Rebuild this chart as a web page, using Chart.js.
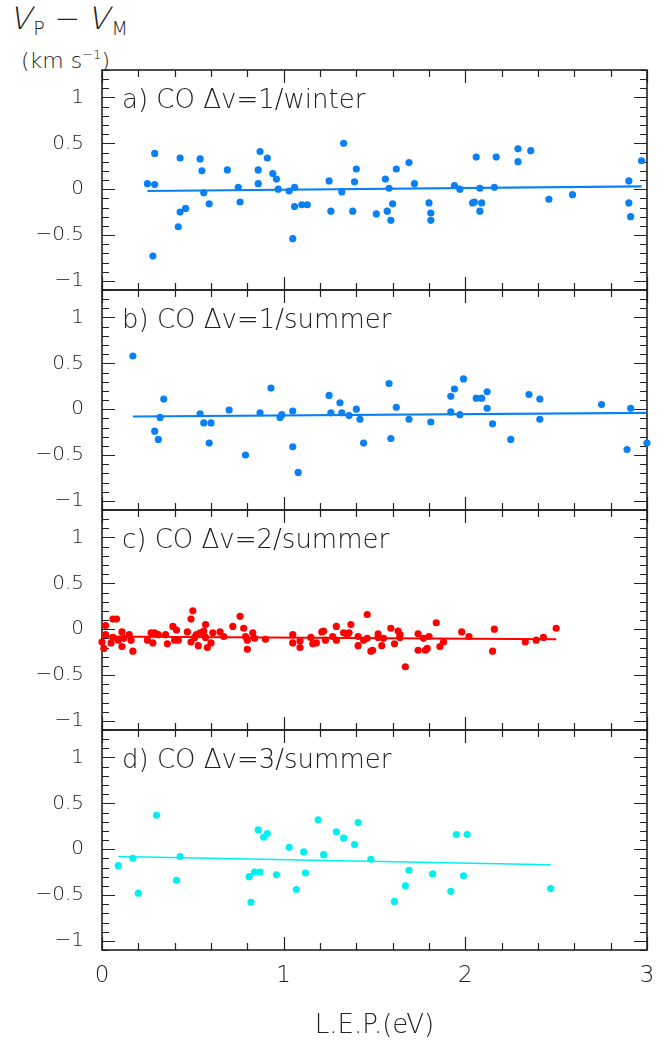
<!DOCTYPE html>
<html>
<head>
<meta charset="utf-8">
<title>V_P - V_M vs L.E.P.</title>
<script src="https://cdn.jsdelivr.net/npm/chart.js@4.4.1/dist/chart.umd.min.js"></script>
<style>
    body { margin: 0; width: 667px; height: 1046px; background: #fff; position: relative; overflow: hidden; font-family: 'DejaVu Sans', sans-serif; font-weight: 200; color: #222; }
    .panel { position: absolute; left: 0; width: 667px; }
    #ytitle { position: absolute; left: 12px; top: 0px; font-size: 31px; line-height: 36px; white-space: nowrap; }
    #ytitle .v { display: inline-block; font-style: normal; transform: skewX(-14deg); }
    #ytitle sub { font-size: 19px; vertical-align: -6px; }
    #yunit { position: absolute; left: 21px; top: 42px; font-size: 22px; line-height: 26px; white-space: nowrap; }
    #yunit sup { font-size: 13px; vertical-align: 9px; }
</style>
</head>
<body>
<div id="ytitle"><span class="v">V</span><sub>P</sub> &minus; <span class="v">V</span><sub>M</sub></div>
<div id="yunit">(km s<sup>&minus;1</sup>)</div>
<div class="panel" style="top:50px;height:260px"><canvas id="panelA"></canvas></div>
<div class="panel" style="top:270px;height:260px"><canvas id="panelB"></canvas></div>
<div class="panel" style="top:490px;height:260px"><canvas id="panelC"></canvas></div>
<div class="panel" style="top:710px;height:336px"><canvas id="panelD"></canvas></div>
<script>
// panel a) CO dv=1 / winter
const aX = [0.25, 0.29, 0.29, 0.28, 0.43, 0.42, 0.43, 0.46, 0.54, 0.55,
            0.56, 0.59, 0.69, 0.75, 0.76, 0.86, 0.87, 0.86, 0.91, 0.94,
            0.96, 0.97, 1.03, 1.06, 1.05, 1.06, 1.10, 1.13, 1.25, 1.26,
            1.32, 1.33, 1.38, 1.39, 1.40, 1.51, 1.56, 1.57, 1.58, 1.60,
            1.59, 1.62, 1.69, 1.72, 1.80, 1.81, 1.81, 1.94, 1.97, 2.04,
            2.05, 2.06, 2.08, 2.09, 2.08, 2.16, 2.17, 2.29, 2.29, 2.36,
            2.46, 2.59, 2.90, 2.90, 2.91, 2.97];
const aY = [0.06, 0.39, 0.05, -0.73, 0.34, -0.41, -0.25, -0.21, 0.33, 0.20,
            -0.04, -0.16, 0.21, 0.02, -0.14, 0.21, 0.41, 0.06, 0.34, 0.17,
            0.11, 0.00, -0.02, 0.02, -0.54, -0.19, -0.17, -0.17, 0.09, -0.24,
            -0.03, 0.50, -0.24, 0.08, 0.22, -0.27, 0.11, -0.24, 0.01, -0.16,
            -0.34, 0.22, 0.29, 0.06, -0.15, -0.26, -0.34, 0.04, 0.00, -0.15,
            -0.14, 0.35, 0.01, -0.15, -0.24, 0.02, 0.35, 0.30, 0.44, 0.42,
            -0.11, -0.06, 0.09, -0.15, -0.30, 0.31];
const aFitX = [0.25, 2.97];
const aFitY = [-0.02, 0.03];

// panel b) CO dv=1 / summer
const bX = [0.17, 0.29, 0.31, 0.32, 0.34, 0.54, 0.56, 0.60, 0.59, 0.70,
            0.79, 0.87, 0.93, 0.98, 0.99, 1.05, 1.05, 1.08, 1.25, 1.26,
            1.31, 1.32, 1.36, 1.40, 1.42, 1.44, 1.58, 1.59, 1.62, 1.69,
            1.81, 1.92, 1.92, 1.94, 1.97, 1.99, 2.06, 2.09, 2.12, 2.12,
            2.15, 2.25, 2.35, 2.41, 2.41, 2.75, 2.89, 2.91, 3.00];
const bY = [0.58, -0.24, -0.33, -0.09, 0.11, -0.05, -0.15, -0.15, -0.37, -0.01,
            -0.50, -0.04, 0.23, -0.09, -0.06, -0.02, -0.41, -0.69, 0.15, -0.04,
            0.07, -0.04, -0.07, 0.00, -0.11, -0.37, 0.28, -0.32, 0.02, -0.11,
            -0.14, 0.14, -0.03, 0.22, -0.06, 0.33, 0.12, 0.12, 0.19, 0.01,
            -0.16, -0.33, 0.16, -0.11, 0.11, 0.05, -0.44, 0.01, -0.37];
const bFitX = [0.17, 3.00];
const bFitY = [-0.08, -0.04];

// panel c) CO dv=2 / summer
const cX = [0.00, 0.01, 0.02, 0.02, 0.05, 0.06, 0.08, 0.06, 0.09, 0.11,
            0.11, 0.12, 0.15, 0.16, 0.17, 0.25, 0.27, 0.28, 0.29, 0.31,
            0.35, 0.36, 0.39, 0.40, 0.41, 0.42, 0.47, 0.49, 0.50, 0.49,
            0.51, 0.52, 0.53, 0.54, 0.56, 0.57, 0.57, 0.58, 0.60, 0.61,
            0.65, 0.67, 0.72, 0.76, 0.78, 0.79, 0.80, 0.80, 0.83, 0.84,
            0.90, 1.05, 1.05, 1.09, 1.09, 1.15, 1.16, 1.18, 1.21, 1.22,
            1.23, 1.27, 1.29, 1.29, 1.33, 1.35, 1.36, 1.37, 1.41, 1.41,
            1.44, 1.46, 1.46, 1.48, 1.49, 1.52, 1.52, 1.54, 1.55, 1.59,
            1.61, 1.63, 1.64, 1.64, 1.67, 1.74, 1.74, 1.77, 1.78, 1.79,
            1.80, 1.84, 1.86, 1.88, 1.98, 2.02, 2.15, 2.16, 2.33, 2.39,
            2.43, 2.50];
const cY = [-0.14, -0.21, 0.04, -0.06, -0.15, 0.11, 0.11, -0.09, -0.12, -0.19,
            -0.03, -0.10, -0.06, -0.12, -0.24, -0.12, -0.04, -0.15, -0.04, -0.06,
            -0.06, -0.16, 0.03, -0.12, -0.01, -0.12, -0.03, 0.11, 0.20, -0.14,
            -0.09, -0.06, -0.18, -0.04, -0.02, 0.05, -0.09, -0.20, -0.15, -0.04,
            -0.03, -0.08, 0.03, 0.14, 0.01, -0.08, -0.22, -0.12, -0.04, -0.10,
            -0.11, -0.06, -0.15, -0.13, -0.20, -0.09, -0.16, -0.15, -0.03, -0.02,
            -0.12, -0.08, -0.12, 0.03, -0.04, -0.06, -0.04, 0.05, -0.08, -0.18,
            -0.12, -0.10, 0.16, -0.24, -0.23, -0.05, -0.09, -0.18, -0.10, 0.01,
            -0.16, -0.02, -0.09, -0.06, -0.41, -0.05, -0.23, -0.10, -0.23, -0.21,
            -0.08, 0.07, -0.19, -0.14, -0.03, -0.08, -0.24, 0.00, -0.14, -0.12,
            -0.09, 0.01];
const cFitX = [0.00, 2.50];
const cFitY = [-0.08, -0.11];

// panel d) CO dv=3 / summer
const dX = [0.09, 0.17, 0.20, 0.30, 0.41, 0.43, 0.81, 0.82, 0.84, 0.87,
            0.86, 0.89, 0.91, 0.96, 1.03, 1.07, 1.11, 1.12, 1.19, 1.22,
            1.29, 1.33, 1.39, 1.41, 1.48, 1.61, 1.67, 1.69, 1.82, 1.92,
            1.95, 1.99, 2.01, 2.47];
const dY = [-0.18, -0.10, -0.48, 0.37, -0.34, -0.08, -0.30, -0.58, -0.25, -0.25,
            0.21, 0.13, 0.17, -0.28, 0.02, -0.44, -0.03, -0.26, 0.32, -0.06,
            0.19, 0.12, 0.05, 0.29, -0.11, -0.57, -0.40, -0.23, -0.27, -0.46,
            0.16, -0.29, 0.16, -0.43];
const dFitX = [0.09, 2.47];
const dFitY = [-0.08, -0.17];

const panelLabels = ['a) CO \u0394v=1/winter', 'b) CO \u0394v=1/summer', 'c) CO \u0394v=2/summer', 'd) CO \u0394v=3/summer'];
const xRange = [0, 3];
const yRange = [-1.1, 1.3];

const FONT = "'DejaVu Sans', sans-serif";
const INK = '#222';

function isMultiple(v, step) {
    return Math.abs(v / step - Math.round(v / step)) < 1e-6;
}

function fmt(v) {
    const r = Math.round(v * 10) / 10;
    if (r === 0) return '0';
    return (r < 0 ? '\u2212' : '') + String(Math.abs(r));
}

function toPoints(xs, ys) {
    return xs.map((x, i) => ({ x: x, y: ys[i] }));
}

// frame, inward ticks and the panel label
const panelDecor = {
    id: 'panelDecor',
    beforeDatasetsDraw(chart, args, opts) {
        const { ctx, chartArea: area, scales: { x, y } } = chart;
        ctx.save();
        ctx.strokeStyle = INK;
        ctx.lineWidth = 1.2;
        ctx.beginPath();
        x.ticks.forEach((t) => {
            const px = Math.round(x.getPixelForValue(t.value)) + 0.5;
            const len = isMultiple(t.value, 1) ? 13 : 7;
            ctx.moveTo(px, area.bottom); ctx.lineTo(px, area.bottom - len);
            ctx.moveTo(px, area.top); ctx.lineTo(px, area.top + len);
        });
        y.ticks.forEach((t) => {
            const py = Math.round(y.getPixelForValue(t.value)) + 0.5;
            const len = isMultiple(t.value, 0.5) ? 13 : 7;
            ctx.moveTo(area.left, py); ctx.lineTo(area.left + len, py);
            ctx.moveTo(area.right, py); ctx.lineTo(area.right - len, py);
        });
        ctx.stroke();
        ctx.lineWidth = 1.6;
        ctx.strokeRect(area.left, area.top, area.right - area.left, area.bottom - area.top);
        ctx.fillStyle = INK;
        ctx.font = '200 26px ' + FONT;
        ctx.textBaseline = 'alphabetic';
        ctx.fillText(opts.label, area.left + 20, area.top + 38);
        ctx.restore();
    }
};

function noPadding(scale) {
    scale.paddingTop = 0;
    scale.paddingBottom = 0;
    scale.paddingLeft = 0;
    scale.paddingRight = 0;
}

function makePanel(canvasId, xs, ys, fitX, fitY, color, fitWidth, label, isBottom) {
    const ctx = document.getElementById(canvasId).getContext('2d');
    return new Chart(ctx, {
        type: 'scatter',
        data: {
            datasets: [{
                data: toPoints(xs, ys),
                backgroundColor: color,
                borderWidth: 0,
                pointRadius: 3.6,
                clip: false,
            }, {
                type: 'line',
                data: toPoints(fitX, fitY),
                borderColor: color,
                borderWidth: fitWidth,
                pointRadius: 0,
                fill: false,
                clip: false,
            }],
        },
        options: {
            responsive: true,
            maintainAspectRatio: false,
            animation: false,
            events: [],
            layout: { padding: { left: 0, right: 20, top: 20, bottom: isBottom ? 0 : 20 } },
            plugins: {
                legend: { display: false },
                tooltip: { enabled: false },
                panelDecor: { label: label },
            },
            scales: {
                x: {
                    type: 'linear',
                    min: xRange[0],
                    max: xRange[1],
                    grid: { display: false, drawTicks: false },
                    border: { display: false },
                    ticks: {
                        display: isBottom,
                        stepSize: 0.2,
                        autoSkip: false,
                        maxRotation: 0,
                        padding: 12,
                        color: INK,
                        font: { family: FONT, size: 23, weight: '200' },
                        callback: (v) => (isMultiple(v, 1) ? fmt(v) : ''),
                    },
                    title: {
                        display: isBottom,
                        text: 'L.E.P.(eV)',
                        color: INK,
                        font: { family: FONT, size: 26, weight: '200' },
                        padding: { top: 0, bottom: 4 },
                    },
                    afterFit: (scale) => { scale.height = isBottom ? 96 : 0; noPadding(scale); },
                },
                y: {
                    type: 'linear',
                    min: yRange[0],
                    max: yRange[1],
                    grid: { display: false, drawTicks: false },
                    border: { display: false },
                    ticks: {
                        stepSize: 0.1,
                        maxTicksLimit: 100,
                        autoSkip: false,
                        padding: 18,
                        color: INK,
                        font: { family: FONT, size: 20, weight: '200' },
                        callback: (v) => (isMultiple(v, 0.5) ? fmt(v) : ''),
                    },
                    afterFit: (scale) => { scale.width = 102; noPadding(scale); },
                },
            },
        },
        plugins: [panelDecor],
    });
}

document.addEventListener('DOMContentLoaded', () => {
    makePanel('panelA', aX, aY, aFitX, aFitY, '#0a80f5', 2.2, panelLabels[0], false);
    makePanel('panelB', bX, bY, bFitX, bFitY, '#0a80f5', 2.2, panelLabels[1], false);
    makePanel('panelC', cX, cY, cFitX, cFitY, '#ff0000', 2.2, panelLabels[2], false);
    makePanel('panelD', dX, dY, dFitX, dFitY, '#00f0f0', 1.6, panelLabels[3], true);
});
</script>
</body>
</html>
